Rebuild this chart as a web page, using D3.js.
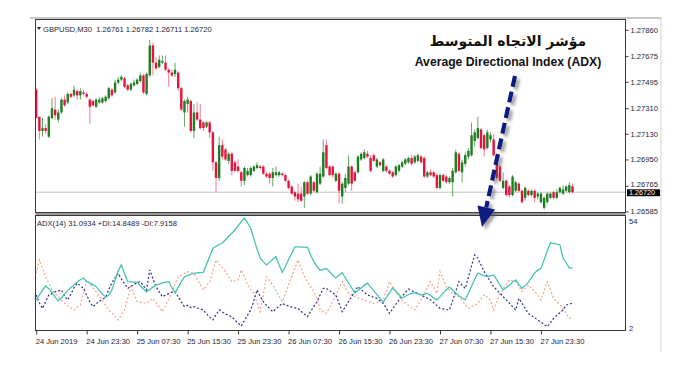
<!DOCTYPE html>
<html><head><meta charset="utf-8">
<script src="https://cdn.jsdelivr.net/npm/d3@7"></script>
<style>body{margin:0;background:#fff}svg{display:block}</style>
</head><body>
<svg id="c" width="700" height="370"></svg>
<script>
const headerText = "GBPUSD,M30  1.26761 1.26782 1.26711 1.26720";
const indicatorText = "ADX(14) 31.0934 +DI:14.8489 -DI:7.9158";
const titleArabic = "مؤشر الاتجاه المتوسط";
const titleEnglish = "Average Directional Index (ADX)";

const open = [
1.2744,1.2725,1.2715,1.2717,1.2711,1.2724,1.2730,1.2723,1.2728,1.2737,
1.2735,1.2741,1.2740,1.2743,1.2740,1.2742,1.2741,1.2737,1.2736,1.2732,
1.2735,1.2735,1.2736,1.2738,1.2744,1.2742,1.2749,1.2751,1.2752,1.2747,
1.2744,1.2747,1.2748,1.2750,1.2754,1.2741,1.2754,1.2775,1.2763,1.2760,
1.2763,1.2763,1.2758,1.2756,1.2755,1.2756,1.2745,1.2728,1.2734,1.2736,
1.2715,1.2728,1.2723,1.2721,1.2718,1.2721,1.2714,1.2693,1.2682,1.2705,
1.2702,1.2694,1.2699,1.2693,1.2690,1.2686,1.2680,1.2684,1.2684,1.2687,
1.2689,1.2690,1.2690,1.2685,1.2685,1.2682,1.2684,1.2684,1.2685,1.2684,
1.2680,1.2676,1.2672,1.2671,1.2671,1.2669,1.2679,1.2671,1.2679,1.2672,
1.2678,1.2683,1.2705,1.2690,1.2690,1.2680,1.2685,1.2669,1.2675,1.2678,
1.2690,1.2686,1.2686,1.2695,1.2696,1.2699,1.2696,1.2698,1.2690,1.2693,
1.2687,1.2690,1.2687,1.2686,1.2684,1.2687,1.2690,1.2692,1.2693,1.2696,
1.2693,1.2694,1.2697,1.2696,1.2683,1.2686,1.2686,1.2684,1.2675,1.2684,
1.2683,1.2679,1.2679,1.2686,1.2699,1.2686,1.2692,1.2697,1.2698,1.2708,
1.2710,1.2716,1.2712,1.2703,1.2709,1.2709,1.2698,1.2690,1.2675,1.2680,
1.2676,1.2670,1.2673,1.2678,1.2673,1.2668,1.2673,1.2670,1.2673,1.2669,
1.2665,1.2661,1.2665,1.2668,1.2672,1.2668,1.2672,1.2671,1.2673,1.2672,
1.26761];
const high = [
1.2745,1.2725,1.2724,1.2720,1.2726,1.2738,1.2739,1.2730,1.2738,1.2740,
1.2742,1.2742,1.2747,1.2744,1.2745,1.2744,1.2742,1.2738,1.2737,1.2738,
1.2739,1.2739,1.2740,1.2746,1.2745,1.2751,1.2753,1.2754,1.2753,1.2748,
1.2749,1.2751,1.2752,1.2756,1.2755,1.2756,1.2779,1.2777,1.2767,1.2768,
1.2768,1.2768,1.2759,1.2758,1.2763,1.2757,1.2746,1.2737,1.2739,1.2737,
1.2734,1.2735,1.2734,1.2722,1.2722,1.2722,1.2715,1.2694,1.2711,1.2709,
1.2703,1.2700,1.2700,1.2694,1.2695,1.2687,1.2690,1.2689,1.2690,1.2691,
1.2693,1.2691,1.2691,1.2686,1.2686,1.2689,1.2690,1.2687,1.2686,1.2685,
1.2681,1.2677,1.2673,1.2678,1.2676,1.2680,1.2680,1.2684,1.2680,1.2686,
1.2690,1.2709,1.2709,1.2691,1.2691,1.2686,1.2686,1.2679,1.2685,1.2698,
1.2691,1.2687,1.2698,1.2700,1.2702,1.2701,1.2698,1.2699,1.2696,1.2694,
1.2696,1.2691,1.2688,1.2687,1.2691,1.2692,1.2694,1.2696,1.2697,1.2698,
1.2698,1.2699,1.2698,1.2697,1.2687,1.2688,1.2687,1.2685,1.2685,1.2685,
1.2684,1.2683,1.2689,1.2702,1.2700,1.2695,1.2700,1.2703,1.2721,1.2716,
1.2725,1.2717,1.2713,1.2716,1.2714,1.2713,1.2699,1.2691,1.2686,1.2681,
1.2677,1.2684,1.2680,1.2679,1.2674,1.2676,1.2674,1.2674,1.2674,1.2672,
1.2672,1.2669,1.2672,1.2672,1.2673,1.2674,1.2676,1.2677,1.2677,1.2679,
1.26782];
const low = [
1.2724,1.2709,1.2711,1.2713,1.2710,1.2723,1.2723,1.2721,1.2727,1.2732,
1.2734,1.2738,1.2739,1.2737,1.2737,1.2740,1.2738,1.2720,1.2732,1.2731,
1.2734,1.2734,1.2735,1.2737,1.2739,1.2741,1.2748,1.2750,1.2745,1.2743,
1.2743,1.2746,1.2747,1.2749,1.2741,1.2740,1.2753,1.2754,1.2758,1.2759,
1.2762,1.2757,1.2746,1.2753,1.2753,1.2743,1.2729,1.2718,1.2728,1.2714,
1.2710,1.2722,1.2716,1.2715,1.2717,1.2710,1.2687,1.2672,1.2680,1.2695,
1.2694,1.2692,1.2684,1.2686,1.2686,1.2676,1.2677,1.2683,1.2683,1.2686,
1.2688,1.2688,1.2684,1.2682,1.2678,1.2676,1.2683,1.2683,1.2683,1.2679,
1.2674,1.2670,1.2666,1.2665,1.2665,1.2661,1.2670,1.2670,1.2672,1.2671,
1.2677,1.2682,1.2688,1.2683,1.2682,1.2679,1.2664,1.2664,1.2672,1.2677,
1.2673,1.2679,1.2685,1.2694,1.2695,1.2696,1.2686,1.2693,1.2689,1.2690,
1.2686,1.2686,1.2684,1.2682,1.2683,1.2686,1.2689,1.2691,1.2692,1.2691,
1.2692,1.2693,1.2692,1.2682,1.2682,1.2683,1.2682,1.2674,1.2674,1.2679,
1.2678,1.2678,1.2669,1.2685,1.2686,1.2679,1.2690,1.2695,1.2697,1.2704,
1.2709,1.2702,1.2697,1.2702,1.2707,1.2697,1.2681,1.2679,1.2674,1.2669,
1.2668,1.2669,1.2672,1.2672,1.2664,1.2666,1.2669,1.2669,1.2665,1.2667,
1.2664,1.2660,1.2664,1.2667,1.2667,1.2667,1.2671,1.2670,1.2672,1.2671,
1.26711];
const close = [
1.2724,1.2715,1.2717,1.2715,1.2725,1.2731,1.2726,1.2728,1.2737,1.2733,
1.2741,1.2739,1.2744,1.2740,1.2743,1.2741,1.2739,1.2732,1.2733,1.2737,
1.2737,1.2738,1.2739,1.2745,1.2740,1.2749,1.2751,1.2753,1.2746,1.2744,
1.2748,1.2749,1.2751,1.2754,1.2742,1.2755,1.2775,1.2763,1.2759,1.2765,
1.2764,1.2758,1.2756,1.2754,1.2758,1.2745,1.2730,1.2736,1.2737,1.2715,
1.2728,1.2723,1.2717,1.2717,1.2721,1.2714,1.2693,1.2682,1.2705,1.2697,
1.2695,1.2699,1.2687,1.2687,1.2687,1.2680,1.2689,1.2687,1.2689,1.2690,
1.2691,1.2689,1.2685,1.2683,1.2682,1.2686,1.2686,1.2686,1.2684,1.2680,
1.2675,1.2671,1.2669,1.2667,1.2666,1.2679,1.2671,1.2683,1.2673,1.2685,
1.2685,1.2700,1.2689,1.2684,1.2684,1.2685,1.2673,1.2678,1.2682,1.2690,
1.2678,1.2680,1.2697,1.2699,1.2700,1.2697,1.2687,1.2694,1.2695,1.2691,
1.2695,1.2687,1.2685,1.2683,1.2690,1.2691,1.2693,1.2695,1.2696,1.2692,
1.2697,1.2698,1.2693,1.2683,1.2686,1.2684,1.2683,1.2675,1.2684,1.2680,
1.2679,1.2682,1.2687,1.2700,1.2687,1.2693,1.2698,1.2701,1.2712,1.2714,
1.2717,1.2703,1.2702,1.2714,1.2712,1.2698,1.2682,1.2680,1.2680,1.2670,
1.2670,1.2683,1.2679,1.2673,1.2665,1.2675,1.2670,1.2673,1.2668,1.2671,
1.2671,1.2668,1.2671,1.2671,1.2668,1.2672,1.2675,1.2674,1.2676,1.2677,
1.26720];

const adx = [
16.3,18.5,20.8,22.7,21.5,19.8,17.6,16.0,17.2,19.0,
20.6,22.0,23.3,24.5,25.6,26.4,24.7,24.0,23.2,22.4,
20.6,19.0,17.6,18.6,20.9,25.4,29.8,32.4,28.3,24.7,
24.6,24.5,24.5,22.8,21.3,20.0,21.1,22.2,23.2,23.6,
24.1,24.5,24.7,22.0,19.5,22.1,24.6,27.0,27.6,28.0,
28.5,28.7,28.9,29.0,32.7,36.4,40.0,41.0,41.8,42.5,
44.0,45.6,47.0,48.5,50.4,52.3,54.0,51.8,49.2,44.4,
39.8,35.6,33.9,32.4,33.7,35.0,36.2,32.4,29.0,31.8,
34.8,37.8,40.7,40.7,40.6,40.6,40.5,37.0,33.9,31.8,
30.0,30.4,30.8,29.3,27.8,26.4,27.6,28.8,26.4,24.1,
21.8,19.5,20.7,21.8,23.0,24.0,22.3,20.5,18.8,17.0,
15.3,17.5,19.7,21.8,20.3,18.7,17.2,18.0,18.8,19.3,
19.6,19.1,18.6,19.0,19.3,18.3,17.2,16.3,17.8,19.4,
21.0,22.2,20.9,19.4,18.2,17.2,16.3,19.4,22.6,25.8,
28.7,28.1,27.5,27.0,27.4,27.8,25.5,23.2,20.9,22.0,
23.2,24.4,25.5,23.5,21.6,23.0,24.5,26.6,28.7,30.0,
30.8,34.8,38.8,42.6,42.3,42.0,41.6,35.6,33.3,31.0,
31.09];
const plusDI = [
18.6,15.0,12.4,15.5,18.6,19.2,20.0,20.5,20.9,18.0,
16.3,19.0,22.0,24.0,22.8,21.6,18.5,15.5,13.2,14.5,
15.6,16.6,17.5,21.0,24.2,26.5,28.5,26.0,23.8,21.6,
22.5,23.4,24.2,24.7,22.8,20.9,30.1,26.0,22.4,20.0,
17.8,18.5,19.2,19.8,20.1,17.8,15.4,13.2,13.8,12.8,
13.2,12.6,12.2,11.7,9.8,8.4,7.1,9.5,11.7,10.8,
9.9,9.2,8.6,7.0,5.6,4.3,6.8,9.3,11.7,16.0,
20.9,18.0,15.5,13.8,12.3,10.9,12.2,13.5,14.7,14.0,
13.5,13.0,12.6,12.4,11.0,9.8,8.6,11.0,13.2,15.5,
18.6,21.6,21.6,20.5,19.6,18.6,14.8,10.9,13.2,15.5,
17.8,20.1,22.4,21.1,19.8,18.6,18.1,17.5,17.0,15.8,
14.7,12.4,10.1,12.2,14.3,16.3,18.0,19.7,21.3,20.6,
19.9,19.3,18.6,17.8,17.1,16.3,15.0,13.7,12.4,12.2,
11.9,11.7,16.0,20.3,24.7,23.1,21.6,26.8,32.0,37.0,
35.5,32.4,29.3,27.0,24.7,22.4,20.9,19.4,17.8,16.3,
14.8,13.2,11.7,17.0,14.7,12.4,10.1,9.1,8.1,7.1,
6.1,5.0,4.0,5.9,7.8,9.1,10.4,11.7,14.0,14.3,
14.85];
const minusDI = [
28.5,34.7,31.0,27.0,24.0,20.9,19.3,17.8,16.2,14.7,
13.7,12.7,11.7,12.9,14.0,19.7,25.5,23.7,21.9,20.1,
18.0,15.9,13.8,11.7,10.2,8.6,7.1,9.4,11.7,17.0,
22.4,19.0,15.5,15.2,14.9,14.7,15.8,17.0,14.9,12.9,
10.9,13.6,16.3,19.9,23.5,27.0,27.8,28.5,29.3,28.9,
28.5,25.9,23.4,20.9,22.8,24.7,29.7,34.7,32.9,31.1,
29.3,27.0,24.7,25.1,25.5,30.1,26.7,23.2,21.2,19.3,
15.1,10.9,19.0,27.0,25.1,23.2,20.6,18.0,15.5,19.3,
23.2,27.0,30.9,34.7,30.9,27.0,24.7,22.4,20.1,17.4,
11.7,10.9,10.1,12.9,15.7,18.6,21.7,24.7,22.0,19.3,
18.5,17.8,17.3,16.8,16.3,15.8,15.2,14.7,15.2,15.8,
16.3,20.5,24.7,22.4,20.1,17.8,16.3,14.7,13.7,12.7,
11.7,14.0,16.3,19.1,21.9,24.7,22.0,19.3,29.3,25.9,
22.4,20.9,19.3,18.6,17.8,16.0,14.2,12.4,13.2,13.9,
14.7,16.7,18.6,17.5,16.3,11.7,15.5,19.3,21.4,23.4,
25.5,25.1,24.7,22.4,20.1,21.7,23.2,21.7,20.1,18.6,
16.3,20.5,24.7,20.9,17.0,15.5,13.9,12.4,10.1,7.9,
7.92];

const priceTicks = [1.27860,1.27675,1.27495,1.27310,1.27130,1.26950,1.26765,1.26585];
const priceTickLabels = ["1.27860","1.27675","1.27495","1.27310","1.27130","1.26950","1.26765","1.26585"];
const lastPrice = 1.26720;
const lastPriceLabel = "1.26720";
const timeTickIndex = [0,16,32,48,64,80,96,112,128,144,160];
const timeTickLabels = ["24 Jun 2019","24 Jun 23:30","25 Jun 07:30","25 Jun 15:30","25 Jun 23:30","26 Jun 07:30","26 Jun 15:30","26 Jun 23:30","27 Jun 07:30","27 Jun 15:30","27 Jun 23:30"];
const indTicks = [54, 2];

// ---------- layout ----------
const L = 35.5, R = 625.5;
const mainTop = 19.5, mainBot = 212.5, indTop = 215.5, indBot = 330.5;
const FONT = "'Liberation Sans', Arial, sans-serif";
const FS = 7.6;
const TXT = "#1e1e36";

const svg = d3.select("#c");
svg.append("rect").attr("width",700).attr("height",370).attr("fill","#fff");

const defs = svg.append("defs");
defs.append("clipPath").attr("id","clipMain").append("rect")
  .attr("x",L).attr("y",mainTop).attr("width",R-L).attr("height",mainBot-mainTop);
defs.append("clipPath").attr("id","clipInd").append("rect")
  .attr("x",L).attr("y",indTop).attr("width",R-L).attr("height",indBot-indTop);
const f = defs.append("filter").attr("id","shadow").attr("x","-50%").attr("y","-20%").attr("width","200%").attr("height","140%");
f.append("feDropShadow").attr("dx",3).attr("dy",3).attr("stdDeviation",1.6)
  .attr("flood-color","#555").attr("flood-opacity",0.55);

// scales
const x = d3.scaleLinear().domain([0, close.length-1]).range([36.2, 572.5]);
const yP = d3.scaleLinear().domain([1.26574, 1.27943]).range([213, 18]);
const yI = d3.scaleLinear().domain([2, 54]).range([331, 218]);

// outer frame
svg.append("rect").attr("x",30).attr("y",17).attr("width",632).attr("height",2).attr("fill","#c8c8c8");
svg.append("line").attr("x1",661).attr("x2",661).attr("y1",17).attr("y2",352).attr("stroke","#e2e2e2").attr("stroke-width",1.5);

// current price line
svg.append("line").attr("x1",L).attr("x2",R).attr("y1",yP(lastPrice)).attr("y2",yP(lastPrice))
  .attr("stroke","#c4c4c4").attr("stroke-width",1);

// candles
const gC = svg.append("g").attr("clip-path","url(#clipMain)");
const idx = d3.range(close.length);
const up = i => close[i] >= open[i];
gC.selectAll("line.wick").data(idx).join("line").attr("class","wick")
  .attr("x1",i=>x(i)).attr("x2",i=>x(i))
  .attr("y1",i=>yP(high[i])).attr("y2",i=>yP(low[i]))
  .attr("stroke",i=>up(i)?"#63a863":"#f27a92").attr("stroke-width",1);
gC.selectAll("rect.body").data(idx).join("rect").attr("class","body")
  .attr("x",i=>x(i)-1.2).attr("width",2.4)
  .attr("y",i=>Math.min(yP(open[i]),yP(close[i])))
  .attr("height",i=>Math.max(1,Math.abs(yP(open[i])-yP(close[i]))))
  .attr("fill",i=>up(i)?"#1f7d22":"#e5123b");

// separator between panels
svg.append("rect").attr("x",L).attr("y",mainBot).attr("width",R-L).attr("height",indTop-mainBot).attr("fill","#9a9a9a");

// panel borders
[[mainTop,mainBot],[indTop,indBot]].forEach(([t,b])=>{
  svg.append("rect").attr("x",L).attr("y",t).attr("width",R-L).attr("height",b-t)
    .attr("fill","none").attr("stroke","#3a3a3a").attr("stroke-width",1);
});

// indicator lines
const gI = svg.append("g").attr("clip-path","url(#clipInd)");
const line = arr => d3.line().x((d,i)=>x(i)).y(d=>yI(d))(arr);
gI.append("path").attr("d",line(minusDI)).attr("fill","none").attr("stroke","#f2a48e")
  .attr("stroke-width",1.2).attr("stroke-dasharray","2,2");
gI.append("path").attr("d",line(plusDI)).attr("fill","none").attr("stroke","#2c2f8e")
  .attr("stroke-width",1.2).attr("stroke-dasharray","2,2");
gI.append("path").attr("d",line(adx)).attr("fill","none").attr("stroke","#45c2b3")
  .attr("stroke-width",1.3);

// price axis
const ay = svg.append("g").attr("transform",`translate(${R},0)`)
  .call(d3.axisRight(yP).tickValues(priceTicks).tickSize(3).tickPadding(2)
  .tickFormat((d,i)=>priceTickLabels[i]));
ay.select(".domain").remove();
ay.selectAll("line").attr("stroke","#3a3a3a");
ay.selectAll("text").attr("font-family",FONT).attr("font-size",FS).attr("fill",TXT)
  .attr("y",d=>d===1.26765?-1.8:0);

// current price box
const lp = yP(lastPrice);
svg.append("rect").attr("x",627).attr("y",lp-2.9).attr("width",33).attr("height",6.9).attr("fill","#000");
svg.append("text").attr("x",629).attr("y",lp+0.6).attr("dy","0.35em").text(lastPriceLabel)
  .attr("font-family",FONT).attr("font-size",7.2).attr("fill","#fff");

// indicator axis labels
svg.selectAll("text.ind").data(indTicks).join("text").attr("class","ind")
  .attr("x",629).attr("y",d=>d===indTicks[0]?yI(d)+3:yI(d)-3).attr("dy","0.35em")
  .text(d=>d).attr("font-family",FONT).attr("font-size",FS).attr("fill",TXT);

// time axis
const ax = svg.append("g").attr("transform",`translate(0,${indBot})`)
  .call(d3.axisBottom(x).tickValues(timeTickIndex).tickSize(4).tickPadding(4)
  .tickFormat((d,i)=>timeTickLabels[i]));
ax.select(".domain").remove();
ax.selectAll("line").attr("stroke","#3a3a3a");
ax.selectAll("text").attr("text-anchor","start").attr("dx",-1)
  .attr("font-family",FONT).attr("font-size",FS).attr("fill",TXT);

// header texts
svg.append("path").attr("d","M37,27 L41,27 L39,30 Z").attr("fill","#222");
svg.append("text").attr("x",43).attr("y",29).attr("dy","0.35em").text(headerText)
  .attr("font-family",FONT).attr("font-size",FS).attr("fill",TXT).style("white-space","pre");
svg.append("text").attr("x",37).attr("y",223.5).attr("dy","0.35em").text(indicatorText)
  .attr("font-family",FONT).attr("font-size",FS).attr("fill",TXT);

// annotation
svg.append("text").attr("x",508).attr("y",46).attr("text-anchor","middle").text(titleArabic)
  .attr("font-family","'DejaVu Sans', sans-serif").attr("font-weight","bold").attr("font-size",14).attr("fill","#111");
svg.append("text").attr("x",508).attr("y",66).attr("text-anchor","middle").text(titleEnglish)
  .attr("font-family",FONT).attr("font-weight","bold").attr("font-size",12.2).attr("fill","#111");

const a0 = [515,76], tip = [482,227];
const dx = tip[0]-a0[0], dy = tip[1]-a0[1], len = Math.hypot(dx,dy);
const ux = dx/len, uy = dy/len, hl = 20, hw = 9;
const base = [tip[0]-ux*hl, tip[1]-uy*hl];
const gA = svg.append("g").attr("filter","url(#shadow)");
gA.append("line").attr("x1",a0[0]).attr("y1",a0[1]).attr("x2",base[0]).attr("y2",base[1])
  .attr("stroke","#0b1a80").attr("stroke-width",4.2).attr("stroke-dasharray","11,5");
gA.append("path").attr("d",`M${tip[0]},${tip[1]} L${base[0]-uy*hw},${base[1]+ux*hw} L${base[0]+uy*hw},${base[1]-ux*hw} Z`)
  .attr("fill","#0b1a80");
</script>
</body></html>
